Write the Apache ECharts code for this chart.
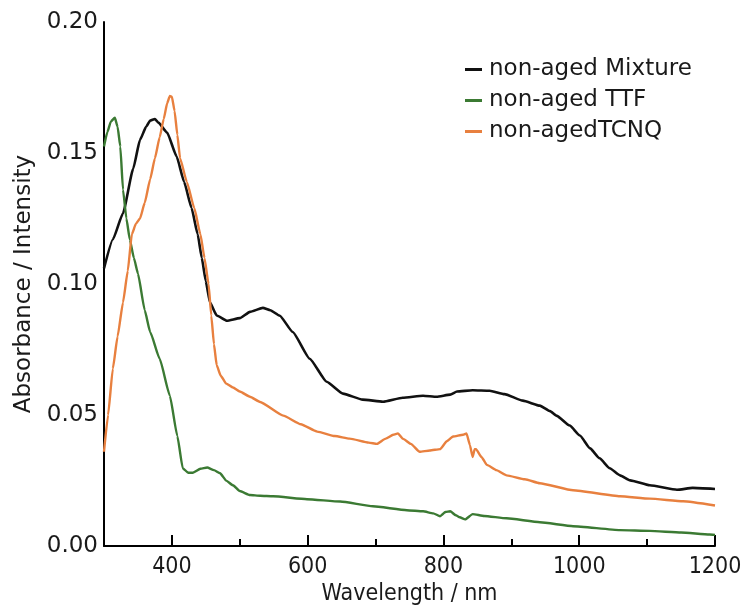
<!DOCTYPE html>
<html>
<head>
<meta charset="utf-8">
<script src="https://cdn.jsdelivr.net/npm/echarts@6/dist/echarts.min.js"></script>
<style>
html,body{margin:0;padding:0;background:#fff;}
#c{width:746px;height:611px;}
</style>
</head>
<body>
<div id="c"></div>
<script>
const seriesNames = ['non-aged Mixture', 'non-aged TTF', 'non-agedTCNQ'];
const xTickLabels = [400, 600, 800, 1000, 1200];
const xMinorTicks = [500, 700, 900, 1100];
const yTickLabels = [0, 0.05, 0.10, 0.15, 0.20];

const mixture = [[300,0.106],[313,0.117],[328,0.127],[343,0.144],[353,0.155],[362,0.160],[368,0.1624],[375,0.163],[380,0.1616],[393,0.1578],[407,0.1487],[418,0.139],[429,0.129],[438,0.119],[444,0.110],[450,0.101],[456,0.093],[466,0.088],[481,0.086],[500,0.087],[515,0.0894],[534,0.0909],[545,0.090],[559,0.0879],[578,0.0817],[603,0.0715],[628,0.0627],[652,0.0582],[681,0.0559],[711,0.0551],[740,0.0566],[770,0.0574],[790,0.057],[810,0.0578],[820,0.059],[843,0.0595],[868,0.0593],[890,0.058],[917,0.0555],[942,0.0536],[957,0.0515],[967,0.0497],[986,0.046],[1001,0.0422],[1016,0.0373],[1030,0.0335],[1045,0.0297],[1060,0.027],[1075,0.0251],[1104,0.0232],[1144,0.0215],[1167,0.0222],[1200,0.0218]];

const ttf = [[300,0.1525],[305,0.158],[310,0.162],[316,0.1635],[320,0.160],[324,0.1525],[328,0.136],[333,0.125],[338,0.117],[344,0.110],[350,0.104],[360,0.090],[368,0.0817],[382,0.0715],[397,0.0574],[408,0.042],[416,0.0297],[424,0.028],[431,0.028],[442,0.0295],[452,0.030],[462,0.029],[471,0.0278],[480,0.025],[490,0.0232],[500,0.021],[515,0.0195],[530,0.0192],[549,0.019],[599,0.0179],[648,0.017],[696,0.0152],[746,0.0137],[770,0.0133],[785,0.0125],[795,0.0114],[803,0.013],[810,0.0133],[818,0.0118],[824,0.011],[832,0.0102],[843,0.0122],[860,0.0115],[893,0.0106],[942,0.0091],[991,0.0076],[1060,0.0061],[1104,0.0058],[1150,0.0052],[1192,0.0044],[1200,0.0043]];

const tcnq = [[300,0.036],[306,0.050],[313,0.0677],[320,0.080],[328,0.093],[335,0.105],[341,0.119],[347,0.123],[353,0.125],[360,0.131],[368,0.140],[375,0.148],[382,0.156],[388,0.163],[393,0.169],[397,0.1718],[400,0.1715],[404,0.166],[408,0.157],[412,0.148],[422,0.139],[433,0.129],[442,0.119],[448,0.110],[454,0.100],[458,0.088],[462,0.077],[466,0.069],[472,0.065],[480,0.062],[490,0.0605],[500,0.059],[515,0.057],[530,0.055],[564,0.0498],[590,0.0465],[614,0.0437],[640,0.042],[662,0.041],[690,0.0395],[702,0.039],[715,0.041],[726,0.0425],[733,0.043],[740,0.041],[752,0.039],[765,0.036],[780,0.0365],[795,0.037],[805,0.040],[814,0.0418],[829,0.0425],[834,0.043],[839,0.0385],[843,0.034],[846,0.037],[848,0.037],[856,0.034],[864,0.031],[878,0.029],[893,0.027],[920,0.0255],[942,0.024],[991,0.0213],[1060,0.019],[1104,0.0181],[1153,0.0171],[1200,0.0155]];

const colors = ['#111111', '#3b7a33', '#e8803f'];
const chart = echarts.init(document.getElementById('c'));
const condensed = '"DejaVu Sans Condensed", "DejaVu Sans", sans-serif';
const sans = '"DejaVu Sans", sans-serif';

chart.setOption({
  animation: false,
  color: colors,
  grid: {left: 104, right: 31, top: 22, bottom: 63, containLabel: false},
  legend: {
    orient: 'vertical', left: 460, top: 53, itemGap: 8,
    icon: 'rect', itemWidth: 17, itemHeight: 3,
    textStyle: {fontFamily: sans, fontSize: 23, color: '#1a1a1a', padding: [0,0,0,2]},
    data: seriesNames
  },
  xAxis: [{
    type: 'value', min: 300, max: 1200, interval: 100,
    name: 'Wavelength / nm', nameLocation: 'middle', nameGap: 32,
    nameTextStyle: {fontFamily: condensed, fontSize: 23, color: '#1a1a1a'},
    axisLine: {show: true, onZero: false, lineStyle: {color: '#000', width: 2}},
    axisTick: {show: true, inside: true, length: 11, customValues: xTickLabels, lineStyle: {color: '#000', width: 2}},
    axisLabel: {customValues: xTickLabels, margin: 9, fontFamily: condensed, fontSize: 23, color: '#1a1a1a',
      formatter: v => String(v)},
    splitLine: {show: false}
  }, {
    type: 'value', min: 300, max: 1200, interval: 100, position: 'bottom',
    axisLine: {show: false},
    axisTick: {show: true, inside: true, length: 7, customValues: xMinorTicks, lineStyle: {color: '#000', width: 2}},
    axisLabel: {show: false},
    splitLine: {show: false}
  }],
  yAxis: {
    type: 'value', min: 0, max: 0.2, interval: 0.05,
    name: 'Absorbance / Intensity', nameLocation: 'middle', nameGap: 64,
    nameTextStyle: {fontFamily: sans, fontSize: 23, color: '#1a1a1a'},
    axisLine: {show: true, lineStyle: {color: '#000', width: 2}},
    axisTick: {show: false},
    axisLabel: {margin: 6, fontFamily: sans, fontSize: 23, color: '#1a1a1a',
      formatter: v => v.toFixed(2)},
    splitLine: {show: false}
  },
  series: [
    {name: seriesNames[0], type: 'line', data: mixture, showSymbol: false, smooth: 0.15, smoothMonotone: 'x', lineStyle: {width: 2.6}},
    {name: seriesNames[1], type: 'line', data: ttf, showSymbol: false, smooth: 0.15, smoothMonotone: 'x', lineStyle: {width: 2.4}},
    {name: seriesNames[2], type: 'line', data: tcnq, showSymbol: false, smooth: 0.15, smoothMonotone: 'x', lineStyle: {width: 2.4}}
  ]
});
</script>
</body>
</html>
